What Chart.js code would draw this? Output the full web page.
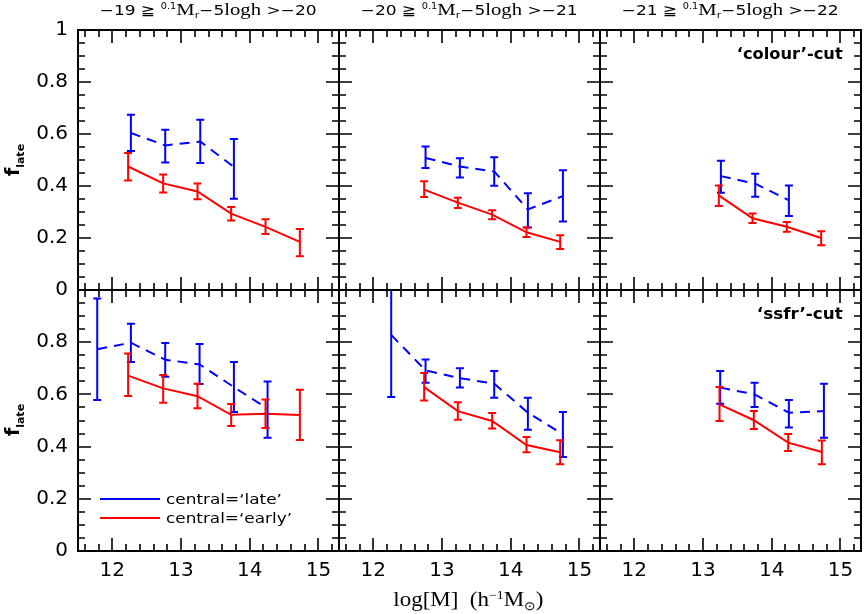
<!DOCTYPE html>
<html><head><meta charset="utf-8">
<script src="https://cdn.jsdelivr.net/npm/chart.js@4.4.1/dist/chart.umd.min.js"></script>
<style>
html,body{margin:0;padding:0;background:#fff}
#wrap{position:relative;width:868px;height:614px;overflow:hidden;background:#fff}
canvas{position:absolute}
.t{position:absolute;white-space:nowrap;color:#000;line-height:1}
.ttl{font-family:"DejaVu Sans",sans-serif;font-size:14px;top:1px;transform-origin:center}
.ttl .sr{font-family:"Liberation Serif",serif;font-size:17px}
.ttl .sp{font-size:8px;vertical-align:6px}
.ttl sub{font-size:9px;vertical-align:-3px;line-height:0}
.cut{font-family:"DejaVu Sans",sans-serif;font-weight:bold;font-size:15px;transform-origin:right center}
.leg{font-family:"DejaVu Sans",sans-serif;font-size:14px;transform-origin:left center}
.ln{position:absolute;height:2px}
.yt{font-family:"DejaVu Sans",sans-serif;font-weight:bold;font-size:19px;transform:translate(-50%,-50%) rotate(-90deg)}
.yt sub{font-size:11px;vertical-align:-5px}
.xt{font-family:"Liberation Serif",serif;font-size:20px;transform-origin:center}
.xt sup{font-size:12px;vertical-align:7px}
.xt sub{font-size:12px;vertical-align:-4px}
</style></head><body><div id="wrap"></div>
<script>
// ---------- labels ----------
const magLimits = ['−19','−20','−21','−22'];
const cutNames = ['‘colour’-cut','‘ssfr’-cut'];
const seriesNames = ['central=‘late’','central=‘early’'];
const xTickValues = [12,13,14,15];
const yTickTop = [0,0.2,0.4,0.6,0.8,1];
const yTickBottom = [0,0.2,0.4,0.6,0.8];

// ---------- 'colour'-cut, -19 >= M > -20 ----------
const c19LateX  = [12.27,12.77,13.28,13.77];
const c19Late   = [0.604,0.556,0.571,0.473];
const c19LateLo = [0.535,0.490,0.488,0.351];
const c19LateHi = [0.674,0.616,0.655,0.581];
const c19EarlyX  = [12.23,12.74,13.24,13.73,14.23,14.73];
const c19Early   = [0.475,0.410,0.379,0.294,0.243,0.185];
const c19EarlyLo = [0.421,0.375,0.349,0.267,0.215,0.130];
const c19EarlyHi = [0.527,0.444,0.410,0.319,0.272,0.235];

// ---------- 'colour'-cut, -20 >= M > -21 ----------
const c20LateX  = [12.76,13.26,13.76,14.25,14.76];
const c20Late   = [0.508,0.475,0.456,0.310,0.361];
const c20LateLo = [0.469,0.433,0.401,0.240,0.263];
const c20LateHi = [0.552,0.507,0.511,0.372,0.461];
const c20EarlyX  = [12.74,13.23,13.73,14.23,14.72];
const c20Early   = [0.386,0.336,0.290,0.222,0.185];
const c20EarlyLo = [0.358,0.315,0.272,0.204,0.158];
const c20EarlyHi = [0.418,0.355,0.307,0.240,0.211];

// ---------- 'colour'-cut, -21 >= M > -22 ----------
const c21LateX  = [13.26,13.76,14.25];
const c21Late   = [0.438,0.409,0.345];
const c21LateLo = [0.374,0.359,0.285];
const c21LateHi = [0.497,0.447,0.402];
const c21EarlyX  = [13.23,13.72,14.22,14.72];
const c21Early   = [0.364,0.276,0.243,0.200];
const c21EarlyLo = [0.323,0.258,0.224,0.172];
const c21EarlyHi = [0.402,0.294,0.262,0.226];

// ---------- 'ssfr'-cut, -19 >= M > -20 ----------
const s19LateX  = [11.78,12.27,12.77,13.27,13.77,14.26];
const s19Late   = [0.773,0.798,0.733,0.715,0.628,0.545];
const s19LateLo = [0.579,0.724,0.668,0.640,0.533,0.434];
const s19LateHi = [0.967,0.871,0.797,0.793,0.724,0.649];
const s19EarlyX  = [12.23,12.74,13.24,13.73,14.23,14.73];
const s19Early   = [0.672,0.623,0.593,0.522,0.526,0.521];
const s19EarlyLo = [0.594,0.568,0.547,0.479,0.471,0.425];
const s19EarlyHi = [0.757,0.674,0.641,0.563,0.580,0.618];

// ---------- 'ssfr'-cut, -20 >= M > -21 ----------
const s20LateX  = [12.26,12.76,13.26,13.76,14.25,14.76];
const s20Late   = [0.828,0.692,0.662,0.641,0.530,0.447];
const s20LateLo = [0.590,0.645,0.626,0.587,0.465,0.360];
const s20LateHi = [1.066,0.734,0.700,0.690,0.587,0.533];
const s20EarlyX  = [12.74,13.23,13.73,14.23,14.72];
const s20Early   = [0.628,0.536,0.498,0.406,0.378];
const s20EarlyLo = [0.577,0.503,0.469,0.378,0.332];
const s20EarlyHi = [0.682,0.570,0.529,0.437,0.424];

// ---------- 'ssfr'-cut, -21 >= M > -22 ----------
const s21LateX  = [13.25,13.75,14.25,14.76];
const s21Late   = [0.626,0.600,0.530,0.536];
const s21LateLo = [0.564,0.552,0.473,0.434];
const s21LateHi = [0.690,0.645,0.579,0.641];
const s21EarlyX  = [13.24,13.74,14.24,14.73];
const s21Early   = [0.562,0.501,0.415,0.379];
const s21EarlyLo = [0.498,0.467,0.383,0.332];
const s21EarlyHi = [0.628,0.536,0.448,0.423];

const panels = [
  {row:0,col:0,lx:c19LateX,ly:c19Late,llo:c19LateLo,lhi:c19LateHi,ex:c19EarlyX,ey:c19Early,elo:c19EarlyLo,ehi:c19EarlyHi},
  {row:0,col:1,lx:c20LateX,ly:c20Late,llo:c20LateLo,lhi:c20LateHi,ex:c20EarlyX,ey:c20Early,elo:c20EarlyLo,ehi:c20EarlyHi},
  {row:0,col:2,lx:c21LateX,ly:c21Late,llo:c21LateLo,lhi:c21LateHi,ex:c21EarlyX,ey:c21Early,elo:c21EarlyLo,ehi:c21EarlyHi},
  {row:1,col:0,lx:s19LateX,ly:s19Late,llo:s19LateLo,lhi:s19LateHi,ex:s19EarlyX,ey:s19Early,elo:s19EarlyLo,ehi:s19EarlyHi},
  {row:1,col:1,lx:s20LateX,ly:s20Late,llo:s20LateLo,lhi:s20LateHi,ex:s20EarlyX,ey:s20Early,elo:s20EarlyLo,ehi:s20EarlyHi},
  {row:1,col:2,lx:s21LateX,ly:s21Late,llo:s21LateLo,lhi:s21LateHi,ex:s21EarlyX,ey:s21Early,elo:s21EarlyLo,ehi:s21EarlyHi}
];

// ---------- layout ----------
const colX = [[78,339],[339,600],[600,861]];
const rowY = [[30,290],[290,551]];
const ML=60, MT=12, MR=12, MB=40;
const wrap = document.getElementById('wrap');

const errPlugin = {
  id:'errbars',
  afterDatasetsDraw(chart){
    const {ctx, chartArea:a, scales:{x,y}} = chart;
    ctx.save();
    ctx.beginPath(); ctx.rect(a.left,a.top,a.right-a.left,a.bottom-a.top); ctx.clip();
    ctx.lineWidth = 2; ctx.setLineDash([]); ctx.lineCap='butt';
    chart.data.datasets.forEach(ds=>{
      ctx.strokeStyle = ds.borderColor;
      ds.data.forEach((p,i)=>{
        const px = x.getPixelForValue(p.x);
        const y1 = y.getPixelForValue(ds.lo[i]), y2 = y.getPixelForValue(ds.hi[i]);
        ctx.beginPath();
        ctx.moveTo(px,y1); ctx.lineTo(px,y2);
        ctx.moveTo(px-4,y1); ctx.lineTo(px+4,y1);
        ctx.moveTo(px-4,y2); ctx.lineTo(px+4,y2);
        ctx.stroke();
      });
    });
    ctx.restore();
  }
};

const framePlugin = {
  id:'frame',
  afterDraw(chart){
    const {ctx, chartArea:a, scales:{x,y}} = chart;
    ctx.save();
    ctx.strokeStyle='#000'; ctx.lineWidth=2; ctx.setLineDash([]);
    ctx.strokeRect(a.left,a.top,a.right-a.left,a.bottom-a.top);
    ctx.lineWidth=1.6;
    ctx.beginPath();
    for(let k=58;k<=76;k++){
      const px = Math.round(x.getPixelForValue(k/5));
      const len = (k%5===0)?13:7;
      ctx.moveTo(px,a.bottom); ctx.lineTo(px,a.bottom-len);
      ctx.moveTo(px,a.top); ctx.lineTo(px,a.top+len);
    }
    for(let k=1;k<=19;k++){
      const py = Math.round(y.getPixelForValue(k/20));
      const len = (k%4===0)?13:7;
      ctx.moveTo(a.left,py); ctx.lineTo(a.left+len,py);
      ctx.moveTo(a.right,py); ctx.lineTo(a.right-len,py);
    }
    ctx.stroke();
    ctx.restore();
  }
};

function zeroPad(s){ s.paddingTop=0; s.paddingBottom=0; s.paddingLeft=0; s.paddingRight=0; }

panels.forEach(p=>{
  const [L,R] = colX[p.col], [T,B] = rowY[p.row];
  const W = R-L+ML+MR, H = B-T+MT+MB;
  const cv = document.createElement('canvas');
  cv.width=W; cv.height=H;
  cv.style.left=(L-ML)+'px'; cv.style.top=(T-MT)+'px';
  cv.style.width=W+'px'; cv.style.height=H+'px';
  wrap.appendChild(cv);
  const yTicks = p.row===0 ? yTickTop : yTickBottom;
  new Chart(cv.getContext('2d'), {
    type:'scatter',
    data:{datasets:[
      {label:seriesNames[0], data:p.lx.map((v,i)=>({x:v,y:p.ly[i]})), lo:p.llo, hi:p.lhi,
       borderColor:'#0000ff', backgroundColor:'#0000ff', borderWidth:2, borderDash:[10,7],
       showLine:true, pointRadius:0, fill:false, tension:0},
      {label:seriesNames[1], data:p.ex.map((v,i)=>({x:v,y:p.ey[i]})), lo:p.elo, hi:p.ehi,
       borderColor:'#ff0000', backgroundColor:'#ff0000', borderWidth:2,
       showLine:true, pointRadius:0, fill:false, tension:0}
    ]},
    options:{
      responsive:false, animation:false, devicePixelRatio:1,
      layout:{padding:{top:MT,right:MR,left:0,bottom:0}},
      plugins:{legend:{display:false}, tooltip:{enabled:false}, title:{display:false}},
      scales:{
        x:{type:'linear', min:11.5, max:15.3,
           grid:{display:false, drawTicks:false}, border:{display:false},
           afterBuildTicks:s=>{ s.ticks = xTickValues.map(v=>({value:v})); },
           afterFit:s=>{ s.height = MB; zeroPad(s); },
           ticks:{display:p.row===1, color:'#000', padding:8, maxRotation:0, autoSkip:false,
                  font:{family:'DejaVu Sans', size:20}, callback:v=>String(v)}},
        y:{type:'linear', min:0, max:1,
           grid:{display:false, drawTicks:false}, border:{display:false},
           afterBuildTicks:s=>{ s.ticks = yTicks.map(v=>({value:v})); },
           afterFit:s=>{ s.width = ML; zeroPad(s); },
           ticks:{display:p.col===0, color:'#000', padding:10, autoSkip:false,
                  font:{family:'DejaVu Sans', size:20}, callback:v=>String(v)}}
      }
    },
    plugins:[errPlugin, framePlugin]
  });
});

// ---------- text ----------
function addText(cls, html, css){
  const d = document.createElement('div');
  d.className = 't '+cls; d.innerHTML = html;
  Object.assign(d.style, css);
  wrap.appendChild(d);
  return d;
}
function fitTo(el, w, extra){
  const r = el.getBoundingClientRect().width;
  el.style.transform = (extra||'') + ` scaleX(${(w/r).toFixed(3)})`;
}

for(let c=0;c<3;c++){
  const cx = (colX[c][0]+colX[c][1])/2;
  const html = `${magLimits[c]} ≧ <span class="sp">0.1</span><span class="sr">M</span><sub>r</sub>−5<span class="sr">logh</span> &gt;${magLimits[c+1]}`;
  const d = addText('ttl', html, {});
  const w = d.getBoundingClientRect().width;
  d.style.left = (cx - w/2)+'px';
  fitTo(d, 217);
}

const cut1 = addText('cut', cutNames[0], {right:(868-843)+'px', top:'47px'});
fitTo(cut1, 106);
const cut2 = addText('cut', cutNames[1], {right:(868-843)+'px', top:'307px'});
fitTo(cut2, 86);

// legend
const lnB = document.createElement('div'); lnB.className='ln';
Object.assign(lnB.style,{left:'100px',top:'498px',width:'60px',background:'#0000ff'}); wrap.appendChild(lnB);
const lnR = document.createElement('div'); lnR.className='ln';
Object.assign(lnR.style,{left:'100px',top:'517px',width:'60px',background:'#ff0000'}); wrap.appendChild(lnR);
const lg1 = addText('leg', seriesNames[0], {left:'166px', top:'492px'}); fitTo(lg1, 116);
const lg2 = addText('leg', seriesNames[1], {left:'166px', top:'511px'}); fitTo(lg2, 126);

// axis titles
addText('yt', 'f<sub>late</sub>', {left:'14px', top:'160px'});
addText('yt', 'f<sub>late</sub>', {left:'14px', top:'420px'});
const xt = addText('xt', 'log[M] &nbsp;(h<sup>−1</sup>M<sub>⊙</sub>)', {top:'589px'});
const xw = xt.getBoundingClientRect().width;
xt.style.left = (468 - xw/2)+'px';
fitTo(xt, 150);
</script></body></html>
